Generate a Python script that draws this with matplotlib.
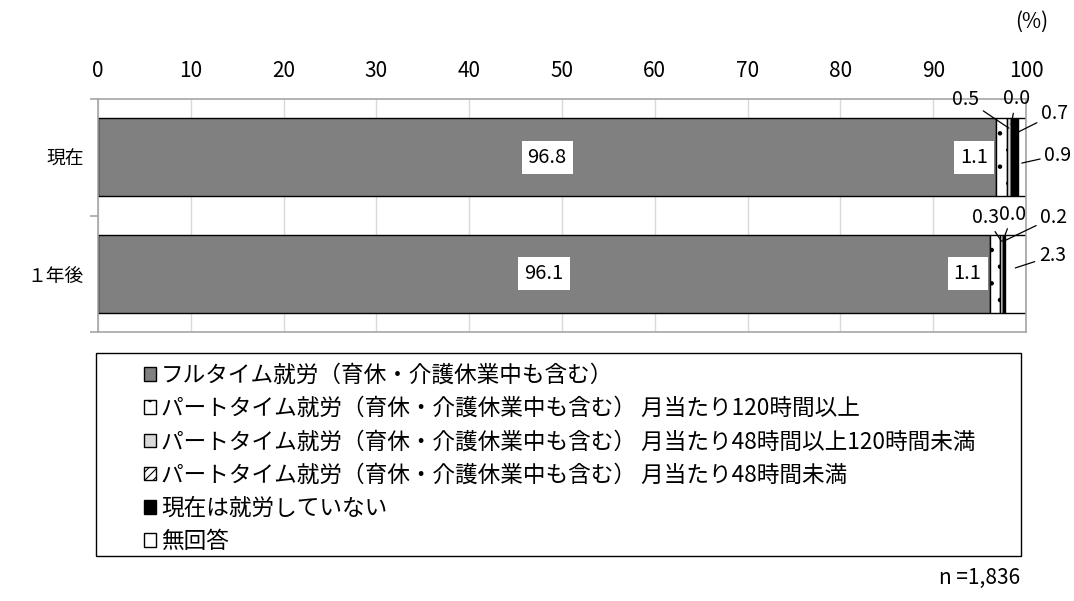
import matplotlib
matplotlib.use("Agg")
import matplotlib.pyplot as plt
from matplotlib.patches import Rectangle
import numpy as np

plt.rcParams['font.family'] = ['Noto Sans CJK JP', 'DejaVu Sans']
plt.rcParams['hatch.linewidth'] = 0.8

# data
categories = ['現在', '１年後']
series_names = [
    'フルタイム就労（育休・介護休業中も含む）',
    'パートタイム就労（育休・介護休業中も含む） 月当たり120時間以上',
    'パートタイム就労（育休・介護休業中も含む） 月当たり48時間以上120時間未満',
    'パートタイム就労（育休・介護休業中も含む） 月当たり48時間未満',
    '現在は就労していない',
    '無回答',
]
fulltime = [96.8, 96.1]
part_120 = [1.1, 1.1]
part_48_120 = [0.5, 0.3]
part_48 = [0.0, 0.0]
not_working = [0.7, 0.2]
no_answer = [0.9, 2.3]
x_ticks = [0, 10, 20, 30, 40, 50, 60, 70, 80, 90, 100]

series = [fulltime, part_120, part_48_120, part_48, not_working, no_answer]
styles = [
    dict(color='#808080', hatch=None),
    dict(color='white', hatch='.'),
    dict(color='#d9d9d9', hatch=None),
    dict(color='white', hatch='////'),
    dict(color='black', hatch=None),
    dict(color='white', hatch=None),
]

fig = plt.figure(figsize=(10.74, 6.01), dpi=100)
ax = fig.add_axes([98 / 1074, 1 - 332 / 601, 928 / 1074, 233 / 601])

y = np.arange(len(categories))
left = np.zeros(len(categories))
bars = []
for vals, st in zip(series, styles):
    b = ax.barh(y, vals, left=left, height=0.67, color=st['color'],
                hatch=st['hatch'], edgecolor='black', linewidth=1.0)
    bars.append(b)
    left = left + np.array(vals)

ax.set_xlim(0, 100)
ax.set_ylim(1.5, -0.5)
ax.xaxis.tick_top()
ax.set_xticks(x_ticks)
ax.tick_params(axis='x', length=0, pad=12, labelsize=15)
ax.grid(axis='x', color='#d9d9d9', linewidth=1)
ax.set_axisbelow(True)

ax.set_yticks(y)
ax.set_yticklabels(categories, fontsize=13.5)
ax.set_yticks([-0.5, 0.5, 1.5], minor=True)
ax.tick_params(axis='y', which='major', length=0, pad=10)
ax.tick_params(axis='y', which='minor', length=6, color='#a6a6a6', width=1.2)
for s in ax.spines.values():
    s.set_color('#a6a6a6')
    s.set_linewidth(1.2)

# labels inside
box = dict(boxstyle='square,pad=0.3', facecolor='white', edgecolor='none')
for i in range(len(categories)):
    ax.text(fulltime[i] / 2, y[i], f'{fulltime[i]:.1f}', ha='center', va='center',
            fontsize=14.5, bbox=box)
    ax.text(fulltime[i] - 2.4, y[i], f'{part_120[i]:.1f}', ha='center', va='center',
            fontsize=14.5, bbox=box)

# small segments with leader lines (offsets in pixels)
offsets = [
    [(-43, 29, -0.25), (5, 26, -0.28), (40, 20, -0.2), (36, 8, 0.05)],
    [(-16, 24, -0.28), (10, 27, -0.28), (50, 24, -0.28), (37, 12, -0.05)],
]
small = [part_48_120, part_48, not_working, no_answer]
for i in range(len(categories)):
    start = fulltime[i] + part_120[i]
    for k, vals in enumerate(small):
        cx = start + vals[i] / 2
        dx, dy, yy = offsets[i][k]
        ax.annotate(f'{vals[i]:.1f}', xy=(cx, y[i] + yy), xytext=(dx, dy),
                    textcoords='offset pixels', ha='center', va='center', fontsize=14,
                    annotation_clip=False,
                    arrowprops=dict(arrowstyle='-', color='black', lw=0.9,
                                    shrinkA=1, shrinkB=0))
        start += vals[i]

# legend
fig.add_artist(Rectangle((96 / 1074, 1 - 556 / 601), 925 / 1074, 203 / 601,
                         transform=fig.transFigure, fill=False,
                         edgecolor='black', linewidth=1.0))
handles = [b.patches[0] for b in bars]
fig.legend(handles, series_names, loc='upper left',
           bbox_to_anchor=(144 / 1074, 1 - 364 / 601), frameon=False,
           fontsize=16.3, handlelength=0.55, handleheight=0.55,
           handletextpad=0.2, labelspacing=0.45, borderpad=0, borderaxespad=0)

fig.text(1032 / 1074, 1 - 22 / 601, '(%)', ha='center', va='center', fontsize=15)
fig.text(980 / 1074, 1 - 578 / 601, 'n =1,836', ha='center', va='center', fontsize=15)

fig.savefig('out.png', dpi=100)
